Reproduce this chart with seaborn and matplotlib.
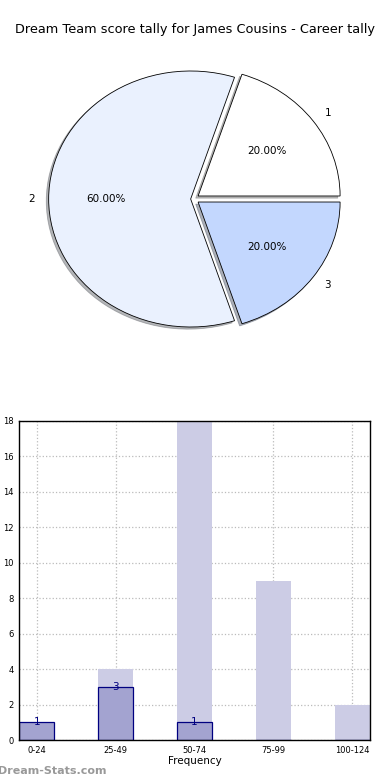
import matplotlib
matplotlib.use("Agg")
import matplotlib.pyplot as plt
import seaborn as sns
import pandas as pd

title = "Dream Team score tally for James Cousins - Career tally"
pie_labels = ["1", "2", "3"]
pie_values = [1, 3, 1]
pie_colors = ["#FFFFFF", "#EAF1FE", "#C3D7FE"]

ranges = ["0-24", "25-49", "50-74", "75-99", "100-124"]
all_counts = [1, 4, 18, 9, 2]
player_counts = [1, 3, 1, 0, 0]

sns.set_theme(style="white")
plt.rcParams['font.family'] = ['DejaVu Sans']
plt.rcParams['text.color'] = 'black'
plt.rcParams['axes.labelcolor'] = 'black'
plt.rcParams['xtick.color'] = 'black'
plt.rcParams['ytick.color'] = 'black'

fig = plt.figure(figsize=(3.9, 7.8), dpi=100)
W, H = 390, 780

# Pie
axp = fig.add_axes([16 / W, 1 - 359 / H, 355 / W, 320 / H])
axp.pie(pie_values, labels=pie_labels, colors=pie_colors, autopct='%.2f%%',
        explode=[0.04, 0.02, 0.04],
        shadow={'ox': -0.012, 'oy': -0.012, 'shade': 0.55},
        startangle=0, counterclock=True,
        wedgeprops=dict(edgecolor='black', linewidth=0.6),
        textprops=dict(fontsize=7.5, color='black'))
axp.set_aspect('auto')
axp.set_xlim(-1.25, 1.25)
axp.set_ylim(-1.25, 1.25)
fig.text(195 / W, 1 - 30 / H, title, ha='center', va='center', fontsize=9.3, color='black')

# Bars
axb = fig.add_axes([19 / W, 1 - 740 / H, 351 / W, 319 / H])
df_all = pd.DataFrame({"range": ranges, "count": all_counts})
df_p = pd.DataFrame({"range": ranges, "count": player_counts})
sns.barplot(data=df_all, x="range", y="count", color="#CCCCE5", saturation=1,
            width=0.45, edgecolor="none", ax=axb, zorder=1)
sns.barplot(data=df_p, x="range", y="count", color="#A3A3D0", saturation=1,
            width=0.45, edgecolor="#000080", linewidth=0.9, ax=axb, zorder=2)
for i, v in enumerate(player_counts):
    if v > 0:
        axb.text(i, v, str(v), ha='center', va='center', color='#000080', fontsize=7.5, zorder=5)
axb.set_xlim(-0.225, 4.225)
axb.set_ylim(0, 18)
axb.set_yticks(range(0, 19, 2))
axb.tick_params(axis='both', labelsize=6, length=2, pad=2)
axb.grid(True, linestyle=':', color='#BBBBBB', linewidth=0.9, zorder=0)
axb.set_axisbelow(True)
axb.set_xlabel("Frequency", fontsize=7.5, labelpad=1)
axb.set_ylabel("Score Range", fontsize=7)
axb.yaxis.set_label_coords(-0.055, 0.5)
for s in axb.spines.values():
    s.set_color('black')
    s.set_linewidth(1)

fig.text(-2 / W, 1 - 771 / H, "Dream-Stats.com", ha='left', va='center',
         fontsize=8, color='#999999', fontweight='semibold')

fig.savefig("out.png", dpi=100)
